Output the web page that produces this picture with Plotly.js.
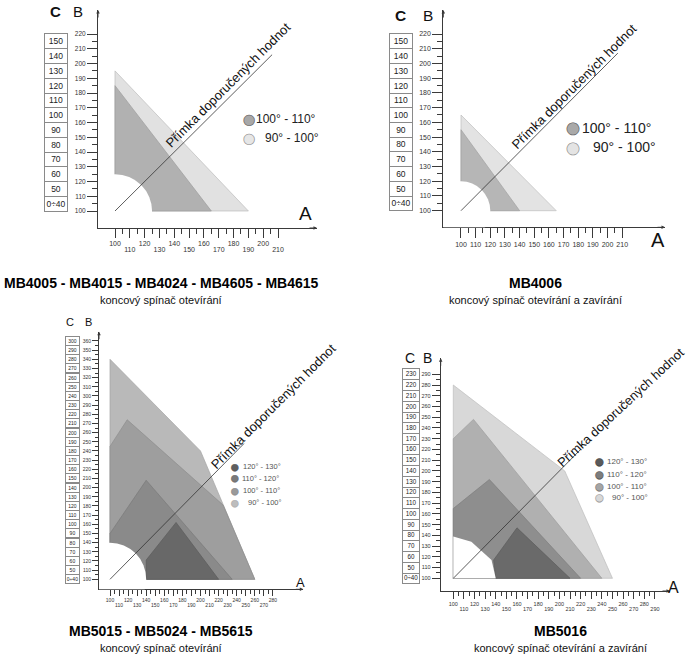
<!DOCTYPE html>
<html><head><meta charset="utf-8">
<script src="https://cdn.plot.ly/plotly-3.0.1.min.js"></script>
<style>html,body{margin:0;padding:0;background:#fff}</style>
</head><body><div id="chart" style="width:690px;height:661px"></div>
<script>
// ---------------- DATA ----------------
// Panel 1 : MB4005 - MB4015 - MB4024 - MB4605 - MB4615
const p1LegendLabels = ["100° - 110°", "90° - 100°"];
const p1Zone90A = [100, 100, 190];
const p1Zone90B = [100, 195, 100];
const p1Zone100A = [100, 100, 165];
const p1Zone100B = [100, 185, 100];
const p1FreeRadius = 25;
const p1LineA = [100, 206];
const p1LineB = [100, 206];
const p1BTicks = [100, 110, 120, 130, 140, 150, 160, 170, 180, 190, 200, 210, 220];
const p1ATicksUpper = [100, 120, 140, 160, 180, 200];
const p1ATicksLower = [110, 130, 150, 170, 190, 210];
const p1CLabels = ["0÷40", "50", "60", "70", "80", "90", "100", "110", "120", "130", "140", "150"];
const p1CAtB = [105, 115, 125, 135, 145, 155, 165, 175, 185, 195, 205, 215];

// Panel 2 : MB4006
const p2LegendLabels = ["100° - 110°", "90° - 100°"];
const p2Zone90A = [100, 100, 165];
const p2Zone90B = [100, 165, 100];
const p2Zone100A = [100, 100, 140];
const p2Zone100B = [100, 155, 100];
const p2FreeRadius = 20;
const p2LineA = [100, 207];
const p2LineB = [100, 207];
const p2BTicks = [100, 110, 120, 130, 140, 150, 160, 170, 180, 190, 200, 210, 220];
const p2ATicksUpper = [100, 120, 140, 160, 180, 200];
const p2ATicksLower = [110, 130, 150, 170, 190, 210];
const p2CLabels = ["0÷40", "50", "60", "70", "80", "90", "100", "110", "120", "130", "140", "150"];
const p2CAtB = [105, 115, 125, 135, 145, 155, 165, 175, 185, 195, 205, 215];

// Panel 3 : MB5015 - MB5024 - MB5615
const p3LegendLabels = ["120° - 130°", "110° - 120°", "100° - 110°", "90° - 100°"];
const p3Zone90A = [100, 100, 200, 260];
const p3Zone90B = [100, 340, 240, 100];
const p3Zone100A = [100, 100, 119, 225, 260];
const p3Zone100B = [100, 245, 274, 181, 100];
const p3Zone110A = [100, 100, 140, 235];
const p3Zone110B = [100, 150, 208, 100];
const p3Zone120A = [140, 140, 173, 220];
const p3Zone120B = [100, 121, 162, 100];
const p3FreeRadius = 40;
const p3LineA = [100, 248];
const p3LineB = [100, 248];
const p3BTicks = [100, 110, 120, 130, 140, 150, 160, 170, 180, 190, 200, 210, 220, 230, 240, 250, 260, 270, 280, 290, 300, 310, 320, 330, 340, 350, 360];
const p3ATicksUpper = [100, 120, 140, 160, 180, 200, 220, 240, 260, 280];
const p3ATicksLower = [110, 130, 150, 170, 190, 210, 230, 250, 270];
const p3CLabels = ["0÷40", "50", "60", "70", "80", "90", "100", "110", "120", "130", "140", "150", "160", "170", "180", "190", "200", "210", "220", "230", "240", "250", "260", "270", "280", "290", "300"];
const p3CAtB = [100, 110, 120, 130, 140, 150, 160, 170, 180, 190, 200, 210, 220, 230, 240, 250, 260, 270, 280, 290, 300, 310, 320, 330, 340, 350, 360];

// Panel 4 : MB5016
const p4LegendLabels = ["120° - 130°", "110° - 120°", "100° - 110°", "90° - 100°"];
const p4Zone90A = [100, 100, 205, 250];
const p4Zone90B = [100, 280, 200, 100];
const p4Zone100A = [100, 100, 119, 240];
const p4Zone100B = [100, 230, 248, 100];
const p4Zone110A = [100, 100, 134, 220];
const p4Zone110B = [100, 165, 192, 100];
const p4Zone120A = [140, 138, 160, 210];
const p4Zone120B = [100, 117, 147, 100];
const p4FreeA = [100, 100, 117, 136, 140];
const p4FreeB = [100, 139, 134, 117, 100];
const p4LineA = [100, 220];
const p4LineB = [100, 220];
const p4BTicks = [100, 110, 120, 130, 140, 150, 160, 170, 180, 190, 200, 210, 220, 230, 240, 250, 260, 270, 280, 290];
const p4ATicksUpper = [100, 120, 140, 160, 180, 200, 220, 240, 260, 280];
const p4ATicksLower = [110, 130, 150, 170, 190, 210, 230, 250, 270, 290];
const p4CLabels = ["0÷40", "50", "60", "70", "80", "90", "100", "110", "120", "130", "140", "150", "160", "170", "180", "190", "200", "210", "220", "230"];
const p4CAtB = [100, 110, 120, 130, 140, 150, 160, 170, 180, 190, 200, 210, 220, 230, 240, 250, 260, 270, 280, 290];

const lineLabel = "Přímka doporučených hodnot";
const titles = [
  ["MB4005 - MB4015 - MB4024 - MB4605 - MB4615", "koncový spínač otevírání"],
  ["MB4006", "koncový spínač otevírání a zavírání"],
  ["MB5015 - MB5024 - MB5615", "koncový spínač otevírání"],
  ["MB5016", "koncový spínač otevírání a zavírání"]
];

// ---------------- LAYOUT / STYLE ----------------
const W = 690, H = 661;
const fx = p => p / W;
const fy = p => 1 - p / H;
const FONT = "Liberation Sans, Arial, sans-serif";
const AX = "#3a3a3a";

const panels = [
  { id: "", ov: "5", xPx: [98, 317], yPx: [10, 228], xr: [88.53, 236.3], yr: [88.47, 236.3],
    zones: [[p1Zone90A, p1Zone90B, "#e1e1e1", "#bcbcbc"], [p1Zone100A, p1Zone100B, "#b1b1b1", "#9c9c9c"]],
    radius: p1FreeRadius, line: [p1LineA, p1LineB],
    bTicks: p1BTicks, aUp: p1ATicksUpper, aLow: p1ATicksLower, cLabels: p1CLabels, cAt: p1CAtB,
    xFont: 7, yFont: 6.5, xLen: 9, xMinor: 5, yLen: 10, yMinor: 5, lowShift: 6,
    cBox: { cx: 56.3, w: 24, font: 8.5 },
    hdr: { c: [55.8, 11.7], b: [78, 11.7], size: 15, cBold: true },
    aLab: [305.8, 213.3, 19],
    leg: { cx: 249.3, tx: [254, 263], ys: [119.3, 137.7], font: 12, cs: 14, labels: p1LegendLabels,
           fills: ["#a8a8a8", "#e6e6e6"], strokes: ["#555", "#888"], color: "#222" },
    diag: [227.5, 85.2, 13, -45] },
  { id: "2", ov: "6", xPx: [443.3, 665], yPx: [10, 227.3], xr: [87.93, 239.2], yr: [88.73, 236.3],
    zones: [[p2Zone90A, p2Zone90B, "#e3e3e3", "#bdbdbd"], [p2Zone100A, p2Zone100B, "#b6b6b6", "#a0a0a0"]],
    radius: p2FreeRadius, line: [p2LineA, p2LineB],
    bTicks: p2BTicks, aUp: p2ATicksUpper, aLow: p2ATicksLower, cLabels: p2CLabels, cAt: p2CAtB,
    xFont: 7, yFont: 7, xLen: 10, xMinor: 5, yLen: 10, yMinor: 5, lowShift: 6.5,
    cBox: { cx: 401.3, w: 24, font: 8.5 },
    hdr: { c: [400.8, 15], b: [427.5, 15], size: 15.5, cBold: true },
    aLab: [658, 240.3, 20],
    leg: { cx: 573, tx: [580, 590.7], ys: [127.7, 147.3], font: 14, cs: 16, labels: p2LegendLabels,
           fills: ["#a9a9a9", "#e4e4e4"], strokes: ["#555", "#888"], color: "#222" },
    diag: [574, 86.3, 13, -45] },
  { id: "3", ov: "7", xPx: [99, 303.3], yPx: [331.7, 589.3], xr: [87.85, 313.6], yr: [89.09, 370.1],
    zones: [[p3Zone90A, p3Zone90B, "#b9b9b9", "#a5a5a5"], [p3Zone100A, p3Zone100B, "#9e9e9e", "#8e8e8e"],
            [p3Zone110A, p3Zone110B, "#8a8a8a", "#7a7a7a"], [p3Zone120A, p3Zone120B, "#686868", "#5c5c5c"]],
    radius: p3FreeRadius, line: [p3LineA, p3LineB],
    bTicks: p3BTicks, aUp: p3ATicksUpper, aLow: p3ATicksLower, cLabels: p3CLabels, cAt: p3CAtB,
    xFont: 5, yFont: 5, xLen: 6, xMinor: 3.5, yLen: 6, yMinor: 3, lowShift: 5,
    cBox: { cx: 72, w: 15, font: 5 },
    hdr: { c: [70, 322], b: [88, 322], size: 11, cBold: false },
    aLab: [300.3, 582, 13],
    leg: { cx: 235, tx: [240.7, 239.5, 240.7, 246], ys: [466.7, 478.3, 490.7, 502.7], font: 7.5, cs: 9, labels: p3LegendLabels,
           fills: ["#5f5f5f", "#7a7a7a", "#9a9a9a", "#bdbdbd"], strokes: ["#555", "#666", "#888", "#aaa"], color: "#555" },
    diag: [273, 406, 13, -45] },
  { id: "4", ov: "8", xPx: [440.7, 670], yPx: [358.3, 591], xr: [88.13, 304.2], yr: [88.17, 304.9],
    zones: [[p4Zone90A, p4Zone90B, "#d8d8d8", "#bdbdbd"], [p4Zone100A, p4Zone100B, "#b0b0b0", "#9e9e9e"],
            [p4Zone110A, p4Zone110B, "#8e8e8e", "#7e7e7e"], [p4Zone120A, p4Zone120B, "#6a6a6a", "#5c5c5c"]],
    freePoly: [p4FreeA, p4FreeB], line: [p4LineA, p4LineB],
    bTicks: p4BTicks, aUp: p4ATicksUpper, aLow: p4ATicksLower, cLabels: p4CLabels, cAt: p4CAtB,
    xFont: 5.5, yFont: 5.5, xLen: 7, xMinor: 4, yLen: 8, yMinor: 4, lowShift: 5,
    cBox: { cx: 410.8, w: 18.3, font: 6.3 },
    hdr: { c: [409.5, 358], b: [427.5, 358], size: 14, cBold: false },
    aLab: [673.3, 587.5, 16],
    leg: { cx: 599, tx: [605, 605, 605, 610], ys: [461.7, 474, 486, 497.7], font: 8, cs: 10, labels: p4LegendLabels,
           fills: ["#5a5a5a", "#7d7d7d", "#a5a5a5", "#d8d8d8"], strokes: ["#444", "#555", "#777", "#999"], color: "#555" },
    diag: [620.5, 407.5, 12.8, -43] }
];

const mids = arr => arr.slice(0, -1).map((v, i) => (v + arr[i + 1]) / 2);

const data = [];
const layout = {
  width: W, height: H, margin: { l: 0, r: 0, t: 0, b: 0 },
  paper_bgcolor: "#fff", plot_bgcolor: "rgba(0,0,0,0)",
  showlegend: false, hovermode: false, font: { family: FONT, color: "#222" },
  annotations: [], shapes: []
};

function txt(xp, yp, text, size, extra) {
  return Object.assign({ xref: "paper", yref: "paper", x: fx(xp), y: fy(yp), text: text, showarrow: false,
    xanchor: "center", yanchor: "middle", font: { size: size, color: "#111", family: FONT } }, extra || {});
}

panels.forEach(p => {
  const xs = "x" + p.id, ys = "y" + p.id, xo = "x" + p.ov;
  p.zones.forEach(z => {
    data.push({ type: "scatter", x: z[0].concat([z[0][0]]), y: z[1].concat([z[1][0]]), xaxis: xs, yaxis: ys,
      mode: "lines", fill: "toself", fillcolor: z[2], line: { color: z[3], width: 0.7 }, hoverinfo: "skip" });
  });
  if (p.freePoly) {
    data.push({ type: "scatter", x: p.freePoly[0], y: p.freePoly[1], xaxis: xs, yaxis: ys,
      mode: "lines", fill: "toself", fillcolor: "#ffffff", line: { color: "#ffffff", width: 0 }, hoverinfo: "skip" });
  }
  data.push({ type: "scatter", x: [null], y: [null], xaxis: xo, yaxis: ys, mode: "markers", hoverinfo: "skip" });

  if (p.radius) {
    const ox = p.line[0][0], oy = p.line[1][0];
    layout.shapes.push({ type: "circle", xref: xs, yref: ys, x0: ox - p.radius, x1: ox + p.radius,
      y0: oy - p.radius, y1: oy + p.radius, fillcolor: "#ffffff", line: { width: 0 }, layer: "above" });
  }
  layout.shapes.push({ type: "line", xref: xs, yref: ys, x0: p.line[0][0], y0: p.line[1][0], x1: p.line[0][1], y1: p.line[1][1],
    line: { color: "#333", width: 0.8 }, layer: "above" });

  const allA = p.aUp.concat(p.aLow).sort((a, b) => a - b);
  layout["xaxis" + p.id] = {
    domain: [fx(p.xPx[0]), fx(p.xPx[1])], range: p.xr, anchor: ys, showline: true, linecolor: AX, linewidth: 1,
    ticks: "outside", ticklen: p.xLen, tickwidth: 1, tickcolor: AX, tickmode: "array",
    tickvals: allA, ticktext: allA.map(v => p.aUp.includes(v) ? String(v) : ""),
    tickfont: { size: p.xFont, color: "#333", family: FONT }, tickangle: 0,
    minor: { tickvals: mids(allA), ticks: "outside", ticklen: p.xMinor, tickcolor: AX, tickwidth: 1 },
    showgrid: false, zeroline: false, fixedrange: true
  };
  layout["xaxis" + p.ov] = {
    overlaying: xs, anchor: ys, range: p.xr, side: "bottom", showline: false,
    ticks: "outside", ticklen: p.xLen, tickcolor: "rgba(0,0,0,0)", tickmode: "array",
    tickvals: p.aLow, ticktext: p.aLow.map(String), ticklabelstandoff: p.lowShift,
    tickfont: { size: p.xFont, color: "#333", family: FONT }, tickangle: 0,
    showgrid: false, zeroline: false, fixedrange: true
  };
  layout["yaxis" + p.id] = {
    domain: [fy(p.yPx[1]), fy(p.yPx[0])], range: p.yr, anchor: xs, showline: true, linecolor: AX, linewidth: 1,
    ticks: "outside", ticklen: p.yLen, tickwidth: 1, tickcolor: AX, tickmode: "array",
    tickvals: p.bTicks, ticktext: p.bTicks.map(String),
    tickfont: { size: p.yFont, color: "#333", family: FONT },
    minor: { tickvals: mids(p.bTicks), ticks: "outside", ticklen: p.yMinor, tickcolor: AX, tickwidth: 1 },
    showgrid: false, zeroline: false, fixedrange: true
  };

  // axis arrows
  layout.annotations.push({ xref: xs + " domain", yref: ys + " domain", x: 0, y: 1, ax: 0, ay: 9, text: "",
    showarrow: true, arrowhead: 2, arrowsize: 0.7, arrowwidth: 1, arrowcolor: AX, standoff: 0 });
  layout.annotations.push({ xref: xs + " domain", yref: ys + " domain", x: 1, y: 0, ax: -9, ay: 0, text: "",
    showarrow: true, arrowhead: 2, arrowsize: 0.7, arrowwidth: 1, arrowcolor: AX, standoff: 0 });

  // C column boxes
  const rowPx = 10 * (p.yPx[1] - p.yPx[0]) / (p.yr[1] - p.yr[0]);
  p.cLabels.forEach((lab, k) => {
    layout.annotations.push({ xref: "paper", yref: ys, x: fx(p.cBox.cx), y: p.cAt[k], text: lab, showarrow: false,
      width: p.cBox.w - 2, height: rowPx - 1, bordercolor: "#8a8a8a", borderwidth: 1, borderpad: 0, bgcolor: "#fff",
      font: { size: p.cBox.font, color: "#222", family: FONT }, xanchor: "center", yanchor: "middle" });
  });

  // C and B headers, A label
  layout.annotations.push(txt(p.hdr.c[0], p.hdr.c[1], p.hdr.cBold ? "<b>C</b>" : "C", p.hdr.size));
  layout.annotations.push(txt(p.hdr.b[0], p.hdr.b[1], "B", p.hdr.size));
  layout.annotations.push(txt(p.aLab[0], p.aLab[1], "A", p.aLab[2]));

  // legend entries
  p.leg.labels.forEach((lab, k) => {
    const circ = '<span style="stroke:' + p.leg.strokes[k] + ';stroke-width:0.6px">●</span>';
    layout.annotations.push(txt(p.leg.cx, p.leg.ys[k], circ, p.leg.cs,
      { font: { size: p.leg.cs, color: p.leg.fills[k], family: "DejaVu Sans, sans-serif" } }));
    layout.annotations.push(txt(p.leg.tx[k], p.leg.ys[k], lab, p.leg.font,
      { xanchor: "left", font: { size: p.leg.font, color: p.leg.color, family: FONT } }));
  });

  // diagonal label
  layout.annotations.push(txt(p.diag[0], p.diag[1], lineLabel, p.diag[2], { textangle: p.diag[3] }));
});

// titles
const titlePos = [[161, 283, 300], [535, 283, 300], [161, 631, 648], [560, 631, 648]];
titles.forEach((t, i) => {
  layout.annotations.push(txt(titlePos[i][0], titlePos[i][1], "<b>" + t[0] + "</b>", 14, { font: { size: 14, color: "#000", family: FONT } }));
  layout.annotations.push(txt(titlePos[i][0], titlePos[i][2], t[1], 11, { font: { size: 11, color: "#111", family: FONT } }));
});

Plotly.newPlot("chart", data, layout, { staticPlot: true, displayModeBar: false });
</script></body></html>
